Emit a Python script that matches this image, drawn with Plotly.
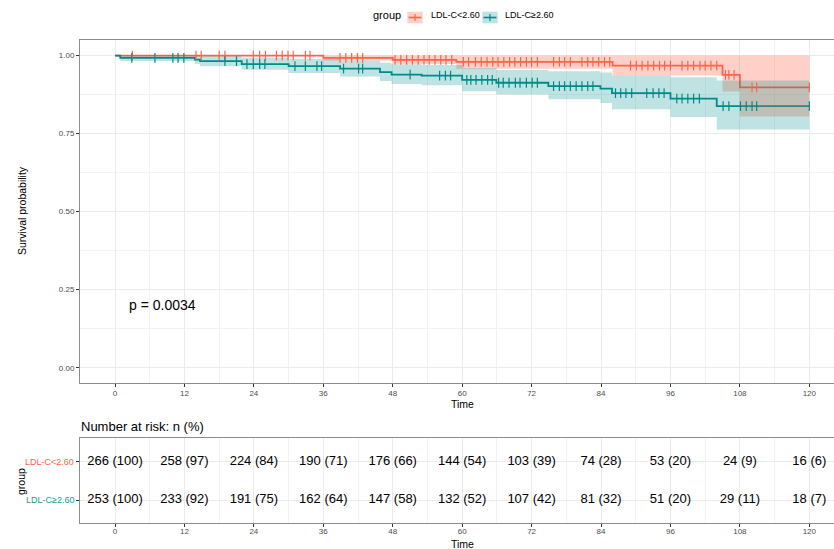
import numpy as np
import plotly.graph_objects as go

W, H = 834, 549
FONT = "Liberation Sans, Arial, sans-serif"
RED = "#FF6347"
TEAL = "#008B8B"
RED_FILL = "rgba(255,99,71,0.3)"
TEAL_FILL = "rgba(0,139,139,0.25)"

groups = ["LDL-C<2.60", "LDL-C\u22652.60"]

# ---- Kaplan-Meier steps ----
low_time = [0, 36, 48, 59, 86, 105, 108, 120]
low_surv = [1.0, 0.993, 0.986, 0.980, 0.968, 0.938, 0.898, 0.898]
low_upper = [1.0, 1.0, 1.0, 1.0, 1.0, 1.0, 1.0, 1.0]
low_lower = [1.0, 0.984, 0.973, 0.958, 0.936, 0.885, 0.805, 0.805]

high_time = [0, 0.9, 13.8, 14.7, 21.9, 30, 38.9, 45.8, 47.8, 53, 60, 65.9, 74.9, 83.9, 85.9, 96, 104, 120]
high_surv = [1.0, 0.993, 0.987, 0.982, 0.973, 0.966, 0.958, 0.947, 0.939, 0.936, 0.922, 0.913, 0.902, 0.894, 0.880, 0.862, 0.838, 0.838]
high_upper = [1.0, 1.0, 1.0, 0.998, 0.993, 0.989, 0.984, 0.977, 0.972, 0.970, 0.960, 0.954, 0.950, 0.946, 0.936, 0.931, 0.920, 0.920]
high_lower = [1.0, 0.983, 0.974, 0.966, 0.955, 0.944, 0.933, 0.919, 0.909, 0.905, 0.886, 0.875, 0.860, 0.848, 0.828, 0.803, 0.763, 0.763]

low_censor = [3.0, 14.0, 14.9, 18.0, 19.0, 23.9, 25.0, 26.0, 27.9, 28.9, 29.9, 30.8, 32.9, 33.7,
              38.9, 39.9, 40.9, 41.9, 42.8, 48.4, 49.4, 50.4, 51.4, 52.4, 53.4, 54.3, 55.3, 56.3,
              57.2, 58.2, 60.2, 61.1, 62.3, 63.3, 64.3, 65.3, 66.2, 67.2, 68.2, 69.1, 70.1, 71.1,
              72.0, 73.0, 75.8, 76.8, 77.7, 78.7, 80.7, 81.7, 82.6, 83.6, 84.6, 85.5, 89.1, 90.1,
              91.1, 92.1, 93.1, 94.1, 95.0, 96.0, 98.0, 99.0, 100.0, 101.1, 102.0, 103.0, 104.0,
              105.5, 106.1, 107.0, 110.1, 110.9, 120.0]
high_censor = [2.9, 6.9, 10.0, 10.9, 11.9, 19.0, 21.0, 22.8, 23.9, 25.0, 25.9, 31.1, 32.9, 34.9,
               35.7, 39.5, 42.1, 42.8, 51.0, 56.1, 57.1, 58.0, 60.8, 61.5, 62.4, 63.4, 64.4, 65.2,
               66.3, 67.1, 68.1, 69.2, 70.0, 71.1, 72.1, 73.0, 75.8, 76.8, 77.7, 78.7, 79.7, 80.7,
               81.7, 82.6, 86.5, 87.4, 88.3, 89.3, 91.9, 93.0, 94.0, 94.9, 97.1, 98.0, 99.0, 100.0,
               101.0, 105.1, 106.1, 108.1, 109.1, 110.1, 110.9, 120.0]

# ---- Risk table ----
risk_times = [0, 12, 24, 36, 48, 60, 72, 84, 96, 108, 120]
low_n = [266, 258, 224, 190, 176, 144, 103, 74, 53, 24, 16]
low_pct = [100, 97, 84, 71, 66, 54, 39, 28, 20, 9, 6]
high_n = [253, 233, 191, 162, 147, 132, 107, 81, 51, 29, 18]
high_pct = [100, 92, 75, 64, 58, 52, 42, 32, 20, 11, 7]

time_ticks = list(range(0, 121, 12))
surv_ticks = [0, 0.25, 0.5, 0.75, 1.0]
surv_ticktext = ["0.00", "0.25", "0.50", "0.75", "1.00"]
p_text = "p = 0.0034"


def px(x):
    return x / W


def py(y):
    return 1 - y / H


def step_at(times, vals, t):
    i = np.searchsorted(np.asarray(times), t, side="right") - 1
    return [vals[k] for k in i]


fig = go.Figure()
series = [
    (low_time, low_surv, low_upper, low_lower, low_censor, RED, RED_FILL),
    (high_time, high_surv, high_upper, high_lower, high_censor, TEAL, TEAL_FILL),
]
# lines
for tm, sv, up, lo, cs, col, fcol in series:
    fig.add_trace(go.Scatter(x=tm, y=sv, mode="lines", line=dict(color=col, width=1.8, shape="hv"),
                             showlegend=False, hoverinfo="skip", xaxis="x", yaxis="y"))
# ribbons
for tm, sv, up, lo, cs, col, fcol in series:
    fig.add_trace(go.Scatter(x=tm, y=lo, mode="lines", line=dict(width=0, shape="hv"),
                             showlegend=False, hoverinfo="skip", xaxis="x", yaxis="y"))
    fig.add_trace(go.Scatter(x=tm, y=up, mode="lines", line=dict(width=0, shape="hv"),
                             fill="tonexty", fillcolor=fcol,
                             showlegend=False, hoverinfo="skip", xaxis="x", yaxis="y"))
# censor marks
for tm, sv, up, lo, cs, col, fcol in series:
    fig.add_trace(go.Scatter(x=cs, y=step_at(tm, sv, cs), mode="markers",
                             marker=dict(symbol="line-ns", size=7, line=dict(color=col, width=1.2)),
                             showlegend=False, hoverinfo="skip", xaxis="x", yaxis="y"))

# risk table text
for yv, ns, ps in [(1, low_n, low_pct), (0, high_n, high_pct)]:
    fig.add_trace(go.Scatter(x=risk_times, y=[yv] * len(risk_times), mode="text",
                             text=[f"{n} ({p})" for n, p in zip(ns, ps)],
                             textfont=dict(family=FONT, size=13, color="#000000"),
                             textposition="middle center",
                             showlegend=False, hoverinfo="skip", xaxis="x2", yaxis="y2"))

x0 = -6.05
x1 = (834 - 115) / 5.786
axis_common = dict(
    showline=True, linecolor="#8C8C8C", linewidth=1, mirror=True,
    ticks="outside", ticklen=3, tickcolor="#333333", tickwidth=1,
    gridcolor="#EBEBEB", gridwidth=1, zeroline=False,
    tickfont=dict(family=FONT, size=8, color="#4D4D4D"),
)
fig.update_layout(
    width=W, height=H, autosize=False,
    margin=dict(l=0, r=0, t=0, b=0),
    paper_bgcolor="white", plot_bgcolor="white",
    font=dict(family=FONT),
    xaxis=dict(domain=[px(80), 1.0], range=[x0, x1], tickvals=time_ticks, anchor="y",
               ticklabelstandoff=-1,
               minor=dict(dtick=6, tick0=0, showgrid=True, gridcolor="#F2F2F2", gridwidth=0.6, ticks=""),
               **axis_common),
    yaxis=dict(domain=[py(383.3), py(40)], range=[-0.05, 1.05], tickvals=surv_ticks,
               ticktext=surv_ticktext, anchor="x",
               minor=dict(dtick=0.125, tick0=0, showgrid=True, gridcolor="#F2F2F2", gridwidth=0.6, ticks=""),
               **axis_common),
    xaxis2=dict(domain=[px(80), 1.0], range=[x0, x1], tickvals=time_ticks, anchor="y2",
                ticklabelstandoff=-3,
                minor=dict(dtick=6, tick0=0, showgrid=True, gridcolor="#F2F2F2", gridwidth=0.6, ticks=""),
                **axis_common),
    yaxis2=dict(domain=[py(523.3), py(437.7)], range=[-0.607, 1.625], tickvals=[0, 1],
                showticklabels=False, anchor="x2", **axis_common),
)

ann = []
def add_text(x, y, text, size, color="#000000", xanchor="center", textangle=0):
    ann.append(dict(x=px(x), y=py(y), xref="paper", yref="paper", text=text, showarrow=False,
                    font=dict(family=FONT, size=size, color=color), xanchor=xanchor,
                    yanchor="middle", textangle=textangle))

add_text(462, 404, "Time", 10.5)
add_text(462, 543.5, "Time", 10.5)
add_text(22, 211, "Survival probability", 10.5, textangle=-90)
add_text(20.5, 481.5, "group", 10.5, textangle=-90)
add_text(79, 426.5, "Number at risk: n (%)", 13, xanchor="left")
add_text(127, 305, p_text, 14, xanchor="left")
add_text(75.5, 461.7, groups[0], 9, color=RED, xanchor="right")
add_text(75.5, 500, groups[1], 9, color="#1A9A9A", xanchor="right")
# legend
add_text(386.5, 15.5, "group", 11)
add_text(428.5, 15.5, groups[0], 9, xanchor="left")
add_text(503, 15.5, groups[1], 9, xanchor="left")
fig.update_layout(annotations=ann)

shapes = []
for bx, col, fcol in [(407.3, RED, RED_FILL), (482.3, TEAL, TEAL_FILL)]:
    shapes.append(dict(type="rect", xref="paper", yref="paper", x0=px(bx), x1=px(bx + 15.4),
                       y0=py(23.3), y1=py(11.7), fillcolor=fcol, line=dict(width=0), layer="below"))
    shapes.append(dict(type="line", xref="paper", yref="paper", x0=px(bx + 1.2), x1=px(bx + 14.2),
                       y0=py(17.5), y1=py(17.5), line=dict(color=col, width=1.6)))
    shapes.append(dict(type="line", xref="paper", yref="paper", x0=px(bx + 7.7), x1=px(bx + 7.7),
                       y0=py(14), y1=py(21), line=dict(color=col, width=1.2)))
fig.update_layout(shapes=shapes)

fig.write_html("out.html")
